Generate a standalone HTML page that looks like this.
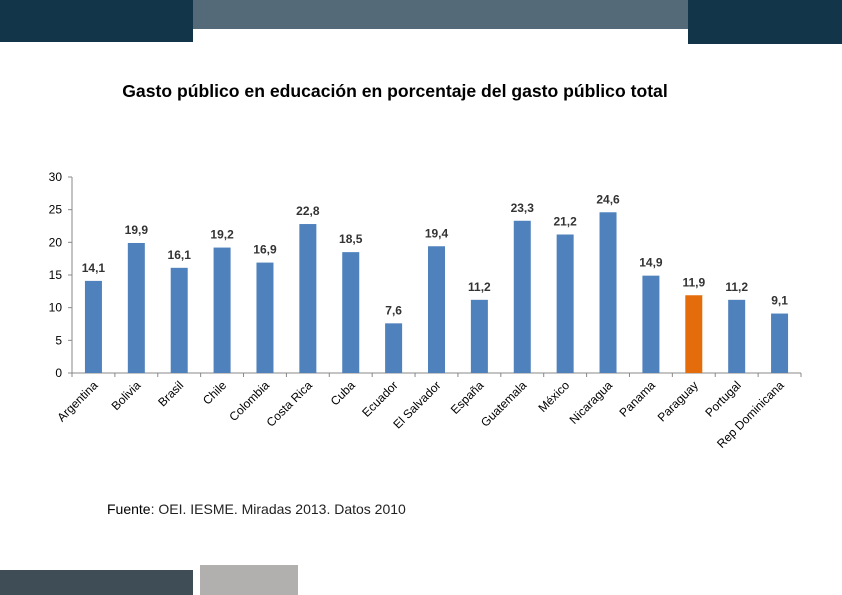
<!DOCTYPE html>
<html><head><meta charset="utf-8"><style>
body{margin:0;width:842px;height:595px;background:#fff;position:relative;overflow:hidden;font-family:"Liberation Sans",sans-serif}
.b{position:absolute}
</style></head><body>
<div class="b" style="left:0;top:0;width:193px;height:42px;background:#12354a"></div>
<div class="b" style="left:193px;top:0;width:495px;height:29px;background:#546a78"></div>
<div class="b" style="left:688px;top:0;width:154px;height:44px;background:#12354a"></div>
<div class="b" style="left:0;top:570px;width:193px;height:25px;background:#3f4d57"></div>
<div class="b" style="left:200px;top:565px;width:98px;height:30px;background:#b1b0ae"></div>
<div class="b" style="left:0;width:790px;top:81px;text-align:center;font-weight:bold;font-size:17.6px;color:#000">Gasto público en educación en porcentaje del gasto público total</div>
<div class="b" style="left:107px;top:501px;font-size:14px;color:#222"><b style="font-weight:normal;color:#000">Fuente</b>: OEI. IESME. Miradas 2013. Datos 2010</div>
<svg class="b" style="left:0;top:0" width="842" height="595" id="svg"></svg>
<script>
const categories=["Argentina","Bolivia","Brasil","Chile","Colombia","Costa Rica","Cuba","Ecuador","El Salvador","España","Guatemala","México","Nicaragua","Panama","Paraguay","Portugal","Rep Dominicana"];
const values=[14.1,19.9,16.1,19.2,16.9,22.8,18.5,7.6,19.4,11.2,23.3,21.2,24.6,14.9,11.9,11.2,9.1];
const valueLabels=["14,1","19,9","16,1","19,2","16,9","22,8","18,5","7,6","19,4","11,2","23,3","21,2","24,6","14,9","11,9","11,2","9,1"];
const yTicks=[0,5,10,15,20,25,30];
const highlight="Paraguay";
const ns="http://www.w3.org/2000/svg",svg=document.getElementById('svg');
const x0=72,x1=801,y0=373,yTop=177,yMax=30;
const step=(x1-x0)/categories.length;
const y=v=>y0-(v/yMax)*(y0-yTop);
const xc=i=>x0+step*(i+0.5);
function mk(t,a){const e=document.createElementNS(ns,t);for(const k in a)e.setAttribute(k,a[k]);svg.appendChild(e);return e;}
const ax=mk('line',{x1:x0,y1:yTop,x2:x0,y2:y0,stroke:'#888'});


const bx=mk('line',{x1:x0,y1:y0,x2:x1,y2:y0,stroke:'#888'});


yTicks.forEach(t=>{
 mk('line',{x1:x0-4,x2:x0,y1:y(t),y2:y(t),stroke:'#888'});
 const tx=mk('text',{x:x0-10,y:y(t)+4,'text-anchor':'end','font-size':12,fill:'#000'});
 tx.textContent=t;
 
 
});
for(let i=0;i<=categories.length;i++)mk('line',{x1:x0+step*i,x2:x0+step*i,y1:y0,y2:y0+4,stroke:'#888'});
categories.forEach((c,i)=>{
 const w=17,v=values[i];
 const r=mk('rect',{x:xc(i)-w/2,y:y(v),width:w,height:y0-y(v),fill:c===highlight?'#e46c0a':'#4f81bd'});
 
 
 const l=mk('text',{x:xc(i),y:y(v)-9,'text-anchor':'middle','font-size':12,'font-weight':'bold',fill:'#333'});
 l.textContent=valueLabels[i];
 
 
 const cx=xc(i)+5,cy=y0+13;
 const cl=mk('text',{x:cx,y:cy,'text-anchor':'end','font-size':12,fill:'#000',transform:`rotate(-45 ${cx} ${cy})`});
 cl.textContent=c;
 
 
});
</script>
</body></html>
